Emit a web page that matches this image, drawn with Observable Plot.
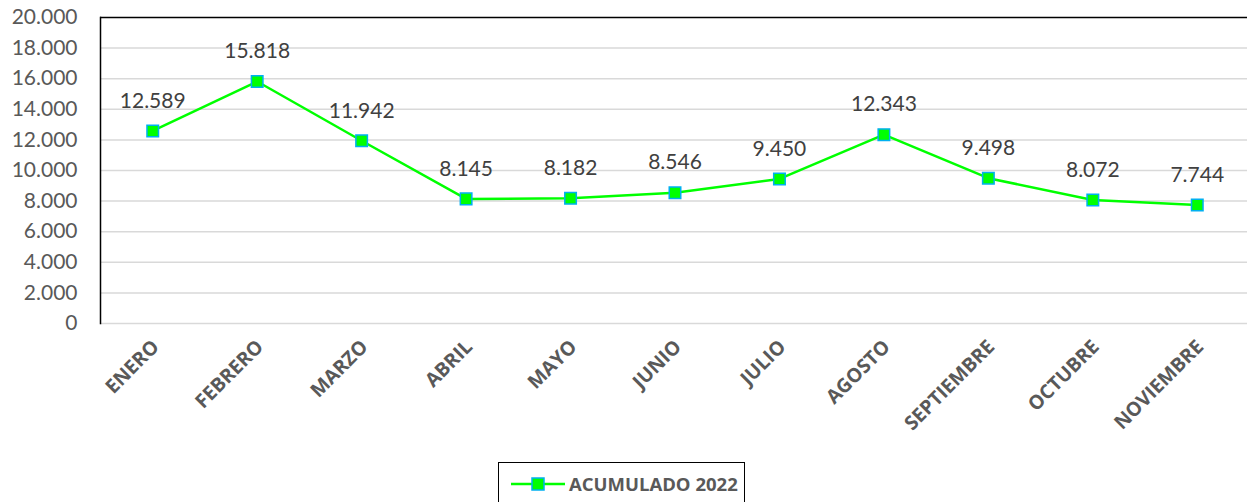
<!DOCTYPE html>
<html><head><meta charset="utf-8">
<script src="https://cdn.jsdelivr.net/npm/d3@7"></script>
<script src="https://cdn.jsdelivr.net/npm/@observablehq/plot@0.6"></script>
<style>
body{margin:0;background:#fff;}
#wrap{position:relative;width:1247px;height:502px;overflow:hidden;}
#legend{position:absolute;left:498px;top:462px;width:247px;height:45px;border:1.5px solid #000;box-sizing:border-box;font-family:"Open Sans",sans-serif;font-weight:bold;font-size:18.5px;color:#595959;}
#legend .item{position:absolute;left:12px;top:8px;display:flex;align-items:center;}
</style></head>
<body><div id="wrap"></div>
<script>
const months = ["ENERO","FEBRERO","MARZO","ABRIL","MAYO","JUNIO","JULIO","AGOSTO","SEPTIEMBRE","OCTUBRE","NOVIEMBRE"];
const values = [12589,15818,11942,8145,8182,8546,9450,12343,9498,8072,7744];
const yTicks = [0,2000,4000,6000,8000,10000,12000,14000,16000,18000,20000];
const seriesName = "ACUMULADO 2022";

const data = months.map((m,i)=>({month:m, value:values[i]}));
const loc = d3.formatLocale({decimal:",", thousands:".", grouping:[3], currency:["",""]});
const fmt = loc.format(",d");

const plot = Plot.plot({
  width:1247, height:502,
  marginLeft:100, marginRight:0, marginTop:17, marginBottom:179,
  style:{fontFamily:"Lato, sans-serif", background:"transparent"},
  x:{type:"point", domain:months, range:[100,1249], padding:0.5, round:false},
  y:{domain:[0,20000], range:[323,17]},
  marks:[
    Plot.ruleY(yTicks.filter(t=>t<20000), {stroke:"#d9d9d9", strokeWidth:1.5}),
    Plot.ruleY([20000], {stroke:"#000", strokeWidth:1.5}),
    Plot.frame({anchor:"left", stroke:"#000", strokeWidth:1.5}),
    Plot.axisY({ticks:yTicks, tickSize:0, tickPadding:23, tickFormat:fmt, label:null}),
    Plot.axisX({tickSize:0, tickRotate:-45, tickPadding:20, dx:3, label:null}),
    Plot.line(data, {x:"month", y:"value", stroke:"#00ff00", strokeWidth:2.5}),
    Plot.dot(data, {x:"month", y:"value", symbol:"square", r:6.5, fill:"#00ff00", stroke:"#00b0f0", strokeWidth:1.5}),
    Plot.text(data, {x:"month", y:"value", text:d=>fmt(d.value), dy:-30, fontSize:21, fill:"#404040"})
  ]
});
d3.select(plot).selectAll('g[aria-label="x-axis tick label"]')
  .attr("font-family", "'Open Sans', sans-serif").attr("font-size", 19.5)
  .attr("font-weight", "bold").attr("fill", "#595959");
d3.select(plot).selectAll('g[aria-label="y-axis tick label"]')
  .attr("font-size", 21).attr("fill", "#595959");
document.getElementById("wrap").appendChild(plot);

const leg = document.createElement("div");
leg.id = "legend";
leg.innerHTML = `<div class="item"><svg width="56" height="16"><line x1="0" y1="8" x2="54" y2="8" stroke="#00ff00" stroke-width="2.5"/><rect x="21" y="2" width="12" height="12" fill="#00ff00" stroke="#00b0f0" stroke-width="1.5"/></svg><span style="margin-left:2px">${seriesName}</span></div>`;
document.getElementById("wrap").appendChild(leg);
</script></body></html>
